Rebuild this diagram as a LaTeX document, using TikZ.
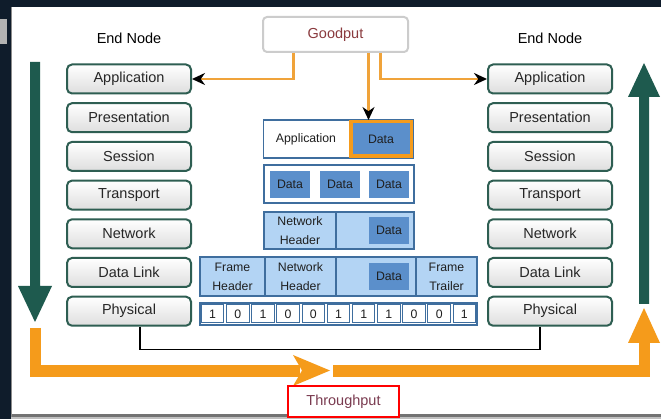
\documentclass[tikz,border=0pt]{standalone}
\usepackage{fontspec}
\setmainfont{Liberation Sans}
\usetikzlibrary{positioning}
\usetikzlibrary{arrows.meta}

\definecolor{bgdark}{HTML}{0F1C2B}
\definecolor{laygreen}{HTML}{2E5E52}
\definecolor{arrowgreen}{HTML}{1E5A4E}
\definecolor{flowor}{HTML}{F59B1B}
\definecolor{feedor}{HTML}{F0A33A}
\definecolor{pdublue}{HTML}{3F6E9E}
\definecolor{datablue}{HTML}{5B8FCB}
\definecolor{pktblue}{HTML}{B3D4F4}
\definecolor{gptext}{HTML}{8A3A3E}
\definecolor{tptext}{HTML}{7A3B50}

\tikzset{
  layer/.style={draw=laygreen, line width=2pt, rounded corners=5pt, top color=white, bottom color=black!13,
    minimum width=124pt, minimum height=29pt, inner sep=0pt, text=black!85, font=\fontsize{14.5}{16}\selectfont},
  pdurow/.style={draw=pdublue, line width=1.5pt, inner sep=0pt},
  pdutext/.style={inner sep=0pt, align=center, text=black!88, font=\fontsize{12.3}{19}\selectfont},
  datablk/.style={pdutext, fill=datablue, minimum width=40pt, minimum height=27pt},
  bitcell/.style={pdutext, draw=pdublue, line width=1pt, fill=white, minimum width=22.5pt, minimum height=18pt},
  feed/.style={feedor, line width=2.5pt, -{Stealth[black, length=13pt, width=12pt]}}
}

\begin{document}
\begin{tikzpicture}[x=1pt, y=-1pt]
  \useasboundingbox (0,0) rectangle (661,419);
  % Fondo y panel
  \fill[bgdark] (0,0) rectangle (661,419);
  \fill[white] (11,7) rectangle (661,414);
  \fill[black!55] (11,414) rectangle (661,417);
  \fill[black!25] (11,417) rectangle (661,419);
  \draw[black!45, line width=1.5pt] (11.5,7) -- (11.5,417);
  \fill[black!30!white] (0,19) rectangle (7,44);

  % Capas de los nodos finales
  \node (lend) at (129,38) {\fontsize{14.5}{16}\selectfont End Node};
  \node (rend) at (550,38) {\fontsize{14.5}{16}\selectfont End Node};
  \foreach \name/\txt [count=\i] in {app/Application, pres/Presentation, ses/Session, trn/Transport,
      net/Network, dl/Data Link, phy/Physical} {
    \node[layer] (L\name) at (129, 79+38.7*\i-38.7) {\txt};
    \node[layer] (R\name) at (550, 79+38.7*\i-38.7) {\txt};
  }

  % Flechas verdes
  \fill[arrowgreen] (30,62) -- (40,62) -- (40,286) -- (52,286) -- (35,322) -- (18,286) -- (30,286) -- cycle;
  \fill[arrowgreen] (639,304) -- (649,304) -- (649,97) -- (660,97) -- (644,63) -- (628,97) -- (639,97) -- cycle;

  % Throughput (flecha naranja)
  \draw[flowor, line width=11pt, line join=miter] (35,328) |- (300,371);
  \fill[flowor] (293,355) -- (330,370.5) -- (293,386) -- (302,370.5) -- cycle;
  \draw[flowor, line width=11pt, line join=miter] (333,371) -| (644,340);
  \fill[flowor] (628,343) -- (644,308) -- (660,343) -- cycle;

  % Cable fisico
  \coordinate (wireL) at ([xshift=11pt]Lphy.south);
  \coordinate (wireR) at ([xshift=-10pt]Rphy.south);
  \draw[black, line width=1.5pt] (wireL) -- ++(0,23) -| (wireR);

  % Goodput
  \node[draw=black!20, line width=2pt, rounded corners=4pt, fill=white, minimum width=145pt, minimum height=35pt,
    text=gptext, font=\fontsize{14.5}{16}\selectfont] (gp) at (335.5,34.5) {Goodput};

  % Encapsulado
  \node[pdurow, fill=white, minimum width=150pt, minimum height=38pt] (approw) at (338.5,139) {};
  \node[pdutext] (apphdr) at (306,139) {Application};
  \node[datablk, draw=flowor, line width=3.5pt, minimum width=60.5pt, minimum height=34.5pt] (appdata) at (381,139) {Data};

  \node[pdurow, fill=white, minimum width=150pt, minimum height=38pt] (segrow) at (339,184) {};
  \node[datablk] (seg1) at (290,184.5) {Data};
  \node[datablk] (seg2) at (340,184.5) {Data};
  \node[datablk] (seg3) at (389,184.5) {Data};

  \node[pdurow, fill=pktblue, minimum width=150pt, minimum height=37pt] (pktrow) at (339,230.5) {};
  \node[pdurow, pdutext, minimum width=72pt, minimum height=37pt] (pkthdr) at (300,230.5) {Network\\Header};
  \node[datablk] (pktdata) at (389,230.5) {Data};

  \node[pdurow, fill=pktblue, minimum width=277pt, minimum height=39pt] (frmrow) at (338.5,276.5) {};
  \node[pdurow, pdutext, minimum width=65pt, minimum height=39pt] (frmhdr) at (232.5,276.5) {Frame\\Header};
  \node[pdurow, pdutext, minimum width=71pt, minimum height=39pt] (frmnet) at (300.5,276.5) {Network\\Header};
  \node[pdurow, pdutext, minimum width=61pt, minimum height=39pt] (frmtrl) at (446.5,276.5) {Frame\\Trailer};
  \node[datablk] (frmdata) at (389,276.5) {Data};

  \node[pdurow, fill=white, minimum width=277pt, minimum height=22pt] (bitrow) at (338.5,314) {};
  \foreach \b [count=\i] in {1,0,1,0,0,1,1,1,0,0,1}
    \node[bitcell] (bit\i) at (200+25.18*\i-12.59, 314) {\b};

  % Flechas de Goodput
  \draw[feed] ([xshift=-42pt]gp.south) |- (Lapp.east);
  \draw[feed] ([xshift=45pt]gp.south) |- (Rapp.west);
  \draw[feed] ([xshift=33pt]gp.south) -- ([xshift=33pt]gp.south |- appdata.north);

  % Throughput
  \node[draw=red, line width=2.5pt, fill=white, minimum width=111pt, minimum height=31pt,
    text=tptext, font=\fontsize{14.5}{16}\selectfont] (tp) at (343.5,401.5) {Throughput};
\end{tikzpicture}
\end{document}
